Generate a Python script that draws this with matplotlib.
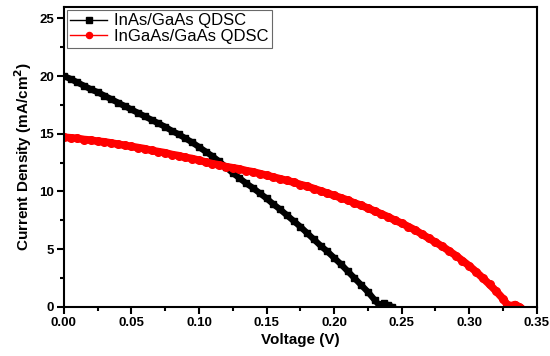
import numpy as np
import matplotlib
matplotlib.use('Agg')
import matplotlib.pyplot as plt
from matplotlib.ticker import MultipleLocator

plt.rcParams['font.family'] = ['Liberation Sans', 'DejaVu Sans']

# InAs/GaAs QDSC J-V curve
v_inas = [0.000, 0.005, 0.010, 0.015, 0.020, 0.025, 0.030, 0.035, 0.040, 0.045,
          0.050, 0.055, 0.060, 0.065, 0.070, 0.075, 0.080, 0.085, 0.090, 0.095,
          0.100, 0.105, 0.110, 0.115, 0.120, 0.125, 0.130, 0.135, 0.140, 0.145,
          0.150, 0.155, 0.160, 0.165, 0.170, 0.175, 0.180, 0.185, 0.190, 0.195,
          0.200, 0.205, 0.210, 0.215, 0.220, 0.225, 0.230, 0.233, 0.237, 0.240,
          0.243]
j_inas = [20.0, 19.75, 19.45, 19.15, 18.85, 18.6, 18.3, 18.0, 17.7, 17.4,
          17.1, 16.8, 16.5, 16.2, 15.9, 15.6, 15.25, 14.95, 14.6, 14.25,
          13.85, 13.45, 13.05, 12.6, 12.1, 11.6, 11.15, 10.7, 10.3, 9.85,
          9.4, 8.9, 8.45, 7.95, 7.45, 6.95, 6.4, 5.85, 5.3, 4.8,
          4.25, 3.7, 3.1, 2.5, 1.9, 1.3, 0.6, 0.2, 0.3, 0.15,
          0.0]

# InGaAs/GaAs QDSC J-V curve
v_ingaas = [0.000, 0.005, 0.010, 0.015, 0.020, 0.025, 0.030, 0.035, 0.040, 0.045,
            0.050, 0.055, 0.060, 0.065, 0.070, 0.075, 0.080, 0.085, 0.090, 0.095,
            0.100, 0.105, 0.110, 0.115, 0.120, 0.125, 0.130, 0.135, 0.140, 0.145,
            0.150, 0.155, 0.160, 0.165, 0.170, 0.175, 0.180, 0.185, 0.190, 0.195,
            0.200, 0.205, 0.210, 0.215, 0.220, 0.225, 0.230, 0.235, 0.240, 0.245,
            0.250, 0.255, 0.260, 0.265, 0.270, 0.275, 0.280, 0.285, 0.290, 0.295,
            0.300, 0.305, 0.310, 0.315, 0.320, 0.325, 0.328, 0.331, 0.334, 0.337]
j_ingaas = [14.7, 14.65, 14.6, 14.5, 14.45, 14.35, 14.3, 14.2, 14.1, 14.0,
            13.9, 13.8, 13.7, 13.55, 13.45, 13.35, 13.2, 13.1, 12.95, 12.85,
            12.7, 12.55, 12.4, 12.3, 12.15, 12.05, 11.95, 11.8, 11.7, 11.55,
            11.4, 11.25, 11.1, 10.95, 10.8, 10.6, 10.45, 10.25, 10.05, 9.85,
            9.65, 9.45, 9.25, 9.0, 8.8, 8.55, 8.3, 8.05, 7.8, 7.5,
            7.25, 6.95, 6.65, 6.3, 5.95, 5.6, 5.25, 4.85, 4.45, 4.0,
            3.55, 3.05, 2.5, 1.95, 1.35, 0.7, 0.2, 0.1, 0.2, 0.0]

fig = plt.figure(figsize=(5.5, 3.56), dpi=100)
ax = fig.add_axes([0.116, 0.138, 0.86, 0.843])

ax.plot(v_inas, j_inas, '-s', color='black', lw=4.5, ms=5, label='InAs/GaAs QDSC')
ax.plot(v_ingaas, j_ingaas, '-o', color='red', lw=5.5, ms=5.5, label='InGaAs/GaAs QDSC')

ax.set_xlim(0, 0.35)
ax.set_ylim(0, 26)
ax.xaxis.set_major_locator(MultipleLocator(0.05))
ax.xaxis.set_minor_locator(MultipleLocator(0.025))
ax.yaxis.set_major_locator(MultipleLocator(5))
ax.yaxis.set_minor_locator(MultipleLocator(2.5))
ax.xaxis.set_major_formatter(plt.FormatStrFormatter('%.2f'))
ax.tick_params(which='both', direction='out', width=1.5, labelsize=9.5, pad=2)
ax.tick_params(which='major', length=5)
ax.tick_params(which='minor', length=3)
for lab in ax.get_xticklabels() + ax.get_yticklabels():
    lab.set_fontweight('bold')
for s in ax.spines.values():
    s.set_linewidth(1.5)

ax.set_xlabel('Voltage (V)', fontsize=11, fontweight='bold', labelpad=3)
ax.set_ylabel('Current Density (mA/cm$^\\mathbf{2}$)', fontsize=11, fontweight='bold', labelpad=4)

leg = ax.legend(loc='upper left', fontsize=12, frameon=True, fancybox=False,
                edgecolor='#444444', borderaxespad=0.2, handlelength=2.2,
                handletextpad=0.4, borderpad=0.2, labelspacing=0.05, markerscale=0.8)
leg.get_frame().set_linewidth(0.8)
for h in leg.get_lines():
    h.set_linewidth(1)

fig.savefig('out.png', dpi=100)
